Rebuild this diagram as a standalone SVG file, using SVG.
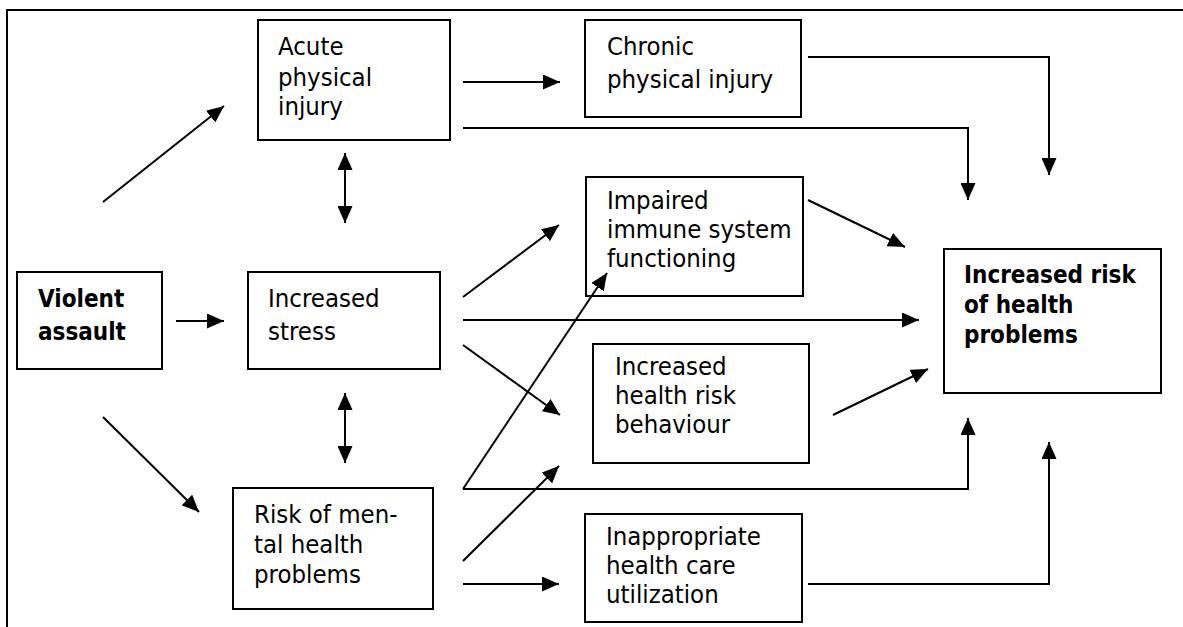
<svg xmlns="http://www.w3.org/2000/svg" width="1183" height="627" viewBox="0 0 1183 627">
  <style>
    .box { fill: #ffffff; stroke: #000000; stroke-width: 2; }
    .t { font-family: "DejaVu Sans Condensed", "DejaVu Sans", sans-serif; font-size: 25.5px; fill: #000000; }
    .b { font-weight: bold; font-size: 24px; }
    .c { fill: none; stroke: #000000; stroke-width: 2; }
    .frame { fill: none; stroke: #000000; stroke-width: 2; }
  </style>
  <defs>
    <marker id="ah" markerUnits="userSpaceOnUse" markerWidth="17" markerHeight="15" viewBox="0 0 17 15" refX="17" refY="7.5" orient="auto">
      <path d="M0,0 L17,7.5 L0,15 Z" fill="#000000"/>
    </marker>
    <marker id="ahs" markerUnits="userSpaceOnUse" markerWidth="17" markerHeight="15" viewBox="0 0 17 15" refX="17" refY="7.5" orient="auto-start-reverse">
      <path d="M0,0 L17,7.5 L0,15 Z" fill="#000000"/>
    </marker>
  </defs>
  <rect x="0" y="0" width="1183" height="627" fill="#ffffff"/>
  <path class="frame" d="M7,627 V10 H1183"/>

  <g id="violent-assault">
    <rect class="box" x="17" y="272" width="145" height="97"/>
    <text class="t b" x="38" y="307">Violent</text>
    <text class="t b" x="38" y="340">assault</text>
  </g>
  <g id="acute-physical-injury">
    <rect class="box" x="258" y="20" width="192" height="120"/>
    <text class="t" x="278" y="55">Acute</text>
    <text class="t" x="278" y="86">physical</text>
    <text class="t" x="278" y="115">injury</text>
  </g>
  <g id="increased-stress">
    <rect class="box" x="248" y="272" width="192" height="97"/>
    <text class="t" x="268" y="307">Increased</text>
    <text class="t" x="268" y="340">stress</text>
  </g>
  <g id="risk-mental-health">
    <rect class="box" x="233" y="488" width="200" height="121"/>
    <text class="t" x="254" y="523">Risk of men-</text>
    <text class="t" x="254" y="553">tal health</text>
    <text class="t" x="254" y="583">problems</text>
  </g>
  <g id="chronic-physical-injury">
    <rect class="box" x="585" y="20" width="216" height="97"/>
    <text class="t" x="607" y="55">Chronic</text>
    <text class="t" x="607" y="88">physical injury</text>
  </g>
  <g id="impaired-immune">
    <rect class="box" x="586" y="177" width="217" height="119"/>
    <text class="t" x="607" y="209">Impaired</text>
    <text class="t" x="607" y="238">immune system</text>
    <text class="t" x="607" y="267">functioning</text>
  </g>
  <g id="health-risk-behaviour">
    <rect class="box" x="593" y="344" width="216" height="119"/>
    <text class="t" x="615" y="375">Increased</text>
    <text class="t" x="615" y="404">health risk</text>
    <text class="t" x="615" y="433">behaviour</text>
  </g>
  <g id="inappropriate-care">
    <rect class="box" x="585" y="514" width="217" height="108"/>
    <text class="t" x="606" y="545">Inappropriate</text>
    <text class="t" x="606" y="574">health care</text>
    <text class="t" x="606" y="603">utilization</text>
  </g>
  <g id="increased-risk">
    <rect class="box" x="944" y="249" width="217" height="144"/>
    <text class="t b" x="964" y="283">Increased risk</text>
    <text class="t b" x="964" y="313">of health</text>
    <text class="t b" x="964" y="343">problems</text>
  </g>

  <g id="connectors">
    <line class="c" x1="103" y1="202" x2="224" y2="106" marker-end="url(#ah)"/>
    <line class="c" x1="176" y1="321" x2="224" y2="321" marker-end="url(#ah)"/>
    <line class="c" x1="103" y1="417" x2="199" y2="512" marker-end="url(#ah)"/>
    <line class="c" x1="345" y1="153" x2="345" y2="223" marker-start="url(#ahs)" marker-end="url(#ahs)"/>
    <line class="c" x1="345" y1="393" x2="345" y2="463" marker-start="url(#ahs)" marker-end="url(#ahs)"/>
    <line class="c" x1="463" y1="82" x2="560" y2="82" marker-end="url(#ah)"/>
    <path class="c" d="M463,128 H968 V200" marker-end="url(#ah)"/>
    <path class="c" d="M808,57 H1049 V175" marker-end="url(#ah)"/>
    <line class="c" x1="808" y1="200" x2="905" y2="247" marker-end="url(#ah)"/>
    <line class="c" x1="463" y1="297" x2="559" y2="225" marker-end="url(#ah)"/>
    <line class="c" x1="463" y1="320" x2="919" y2="320" marker-end="url(#ah)"/>
    <line class="c" x1="463" y1="345" x2="560" y2="415" marker-end="url(#ah)"/>
    <line class="c" x1="833" y1="415" x2="928" y2="369" marker-end="url(#ah)"/>
    <line class="c" x1="463" y1="489" x2="607" y2="273" marker-end="url(#ah)"/>
    <path class="c" d="M463,489 H968 V418" marker-end="url(#ah)"/>
    <line class="c" x1="463" y1="561" x2="559" y2="466" marker-end="url(#ah)"/>
    <line class="c" x1="463" y1="584" x2="559" y2="584" marker-end="url(#ah)"/>
    <path class="c" d="M808,584 H1049 V442" marker-end="url(#ah)"/>
  </g>
</svg>
